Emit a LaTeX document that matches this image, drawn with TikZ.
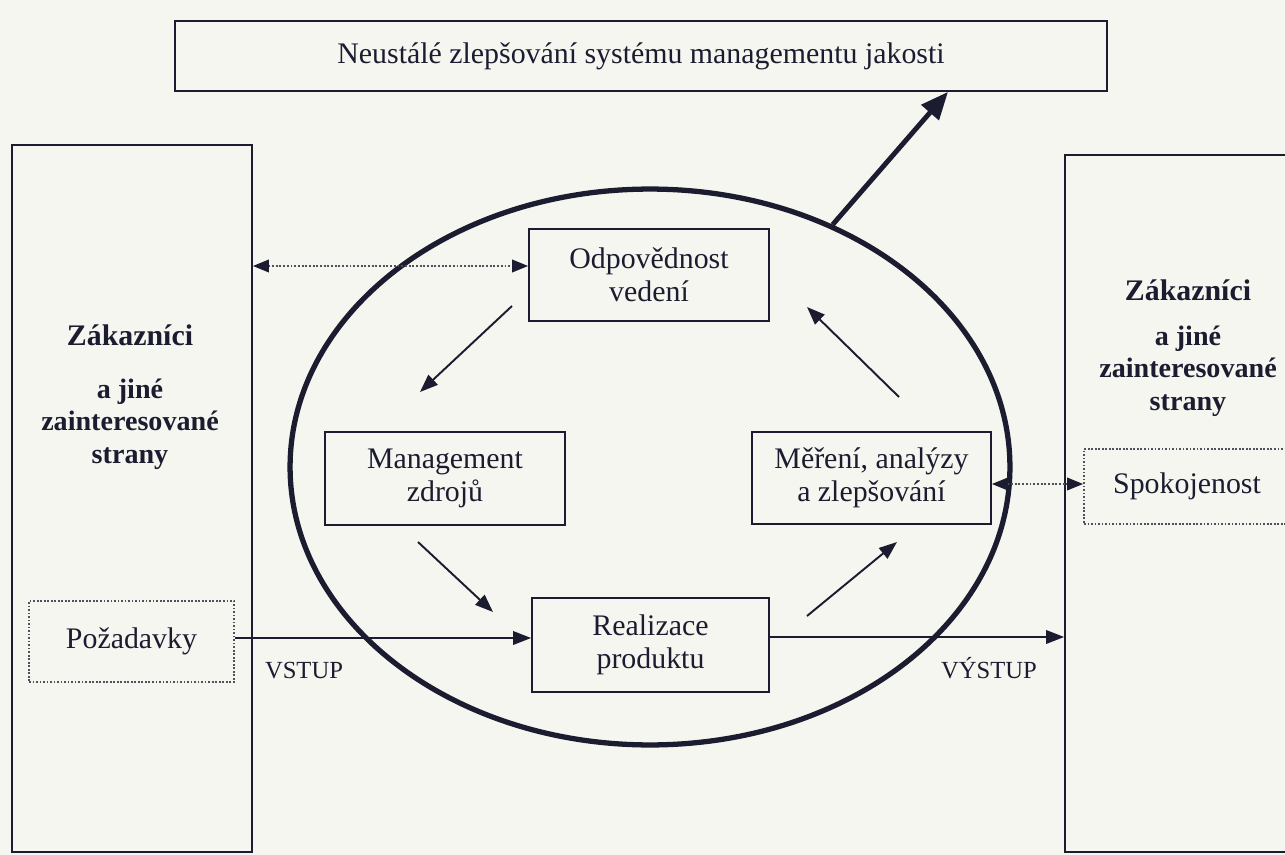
\documentclass[tikz,border=0pt]{standalone}
\usepackage{fontspec}
\setmainfont{Liberation Serif}
\usetikzlibrary{arrows.meta,shapes.geometric}
\definecolor{ink}{RGB}{28,28,48}
\definecolor{paper}{RGB}{246,246,241}
\definecolor{dotc}{RGB}{80,80,92}
\begin{document}
\begin{tikzpicture}[x=0.02cm,y=-0.02cm,
  box/.style={draw=ink, line width=1pt, inner sep=0pt, text=ink, align=center,
    font=\fontsize{17}{19}\selectfont},
  dotbox/.style={draw=dotc, line width=1pt, densely dotted, inner sep=0pt, text=ink,
    align=center, font=\fontsize{17}{19}\selectfont},
  lbl/.style={text=ink, inner sep=0pt, align=center, font=\fontsize{17}{19}\selectfont},
  smalllbl/.style={text=ink, inner sep=0pt, font=\fontsize{14}{16}\selectfont},
  arr/.style={draw=ink, line width=1.1pt, -{Triangle[length=0.36cm,width=0.27cm]}},
  thickarr/.style={draw=ink, line width=2.8pt, -{Triangle[length=0.55cm,width=0.45cm]}},
  dotarr/.style={draw=dotc, line width=1.1pt, densely dotted,
    {Triangle[length=0.32cm,width=0.25cm,color=ink]}-{Triangle[length=0.32cm,width=0.25cm,color=ink]}},
]
\fill[paper] (0,0) rectangle (1285,855);
\useasboundingbox (0,0) rectangle (1285,855);
\clip (0,0) rectangle (1285,855);

% big side boxes
\node[box, minimum width=4.8cm, minimum height=14.14cm] (lbox) at (132,498.5) {};
\node[box, minimum width=4.92cm, minimum height=13.94cm] (rbox) at (1188,503.5) {};

% top box
\node[box, minimum width=18.64cm, minimum height=1.4cm] (top) at (641,56)
  {Neustálé zlepšování systému managementu jakosti};

% ellipse
\node[draw=ink, line width=3pt, ellipse, minimum width=14.4cm, minimum height=11.12cm,
  inner sep=0pt] (ell) at (650,467) {};

% inner boxes
\node[box, minimum width=4.8cm, minimum height=1.84cm] (odp) at (649,275)
  {Odpovědnost\\vedení};
\node[box, minimum width=4.8cm, minimum height=1.86cm] (mgmt) at (445,478.5)
  {Management\\zdrojů};
\node[box, minimum width=4.78cm, minimum height=1.84cm] (mer) at (871.5,478)
  {Měření, analýzy\\a zlepšování};
\node[box, minimum width=4.74cm, minimum height=1.88cm] (real) at (650.5,645)
  {Realizace\\produktu};

% dotted boxes
\node[dotbox, minimum width=4.1cm, minimum height=1.62cm] (poz) at (131.5,641.5) {Požadavky};
\node[dotbox, minimum width=4.12cm, minimum height=1.5cm] (spok) at (1187,486.5) {Spokojenost};

% side texts
\node[lbl, font=\bfseries\fontsize{17}{19}\selectfont] (lz) at (130,335) {Zákazníci};
\node[lbl, font=\bfseries\fontsize{16}{18.5}\selectfont] (lj) at (130,424)
  {a jiné\\zainteresované\\strany};
\node[lbl, font=\bfseries\fontsize{17}{19}\selectfont] (rz) at (1188,290) {Zákazníci};
\node[lbl, font=\bfseries\fontsize{16}{18.5}\selectfont] (rj) at (1188,371)
  {a jiné\\zainteresované\\strany};

% labels
\node[smalllbl] (vstup) at (304,671) {VSTUP};
\node[smalllbl] (vystup) at (989,668) {VÝSTUP};

% helper coordinates
\coordinate (y266) at (0,266);
\coordinate (y638) at (0,638);
\coordinate (y637) at (0,637);
\coordinate (y484) at (0,484);
\coordinate (tx) at (948,0);
\coordinate (a1s) at (512,306);
\coordinate (a1e) at (420,392);
\coordinate (a2s) at (418,542);
\coordinate (a2e) at (493,612);
\coordinate (a3s) at (807,616);
\coordinate (a3e) at (897,542);
\coordinate (a4s) at (899,397);
\coordinate (a4e) at (807,307);

% connectors
\draw[dotarr] (lbox.east |- y266) -- (odp.west |- y266);
\draw[dotarr] (mer.east |- y484) -- (spok.west |- y484);
\draw[arr] (poz.east |- y638) -- (real.west |- y638);
\draw[arr] (real.east |- y637) -- (rbox.west |- y637);
\draw[arr] (a1s) -- (a1e);
\draw[arr] (a2s) -- (a2e);
\draw[arr] (a3s) -- (a3e);
\draw[arr] (a4s) -- (a4e);
\draw[thickarr] (ell.53.8) -- (top.south -| tx);
\end{tikzpicture}
\end{document}
